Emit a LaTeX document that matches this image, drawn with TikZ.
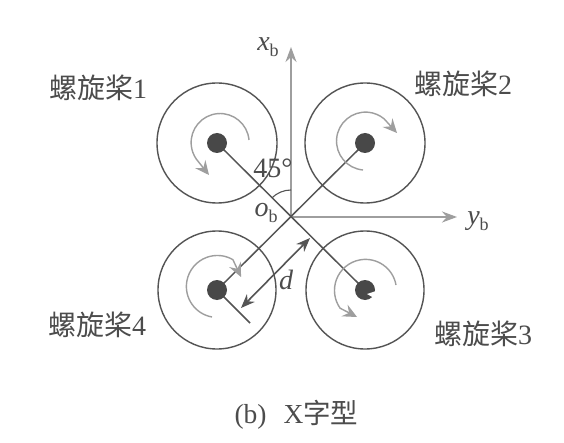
\documentclass[tikz,border=0pt]{standalone}
\usepackage{fontspec}
\setmainfont{Liberation Serif}
\newfontfamily\cjk{Noto Sans CJK SC}
\usetikzlibrary{arrows.meta}
\definecolor{ink}{gray}{0.33}
\definecolor{soft}{gray}{0.62}
\definecolor{txt}{gray}{0.30}
\newcommand{\subb}[1]{{\itshape #1}\raisebox{-0.22em}{\fontsize{18pt}{18pt}\selectfont b}}
\tikzset{
  disc/.style={draw=ink,line width=1.4pt},
  hub/.style={circle,fill=ink!85!black,minimum size=20pt,inner sep=0pt},
  arm/.style={draw=ink,line width=1.5pt},
  axisline/.style={draw=soft,line width=1.5pt,-{Stealth[length=15pt,width=11pt]}},
  spin/.style={draw=soft,line width=1.4pt,-{Stealth[length=14pt,width=13pt,inset=5pt]}},
  lab/.style={text=txt,font=\fontsize{28pt}{28pt}\selectfont,inner sep=0pt},
  sym/.style={text=txt,font=\fontsize{28pt}{28pt}\selectfont,inner sep=0pt},
}
\begin{document}
\begin{tikzpicture}[x=1pt,y=1pt]
\useasboundingbox (0,0) rectangle (564,442);
\fill[white] (0,0) rectangle (564,442);
\coordinate (O) at (291,225);
\coordinate (M1) at (217,299);
\coordinate (M2) at (365,299);
\coordinate (M3) at (365,152);
\coordinate (M4) at (217,152);
\coordinate (T4) at (250,119);
\coordinate (Xt) at (291,395);
\coordinate (Yt) at (457,225);
\coordinate (D1) at (310,204);
\coordinate (D2) at (241,134);
\draw[disc] (M1) circle (60);
\draw[disc] (M2) circle (60);
\draw[disc] (M3) circle (59);
\draw[disc] (M4) circle (59);
\draw[axisline] (O) -- (Xt);
\draw[axisline] (O) -- (Yt);
\draw[arm] (M1) -- (M3);
\draw[arm] (M2) -- (M4);
\draw[arm] (M4) -- (T4);
% spin arrows
\draw[spin] (249,302) arc[start angle=5,end angle=215,radius=29] -- (209,267);
\draw[spin] (363,272) arc[start angle=265,end angle=50,radius=29] -- (397,309);
\draw[spin] (396,157) arc[start angle=10,end angle=215,radius=31] -- (357,125);
\draw[spin] (212,125) arc[start angle=260,end angle=60,radius=31] -- (241,165);
% hubs
\node[hub] (H1) at (M1) {};
\node[hub] (H2) at (M2) {};
\node[hub] (H3) at (M3) {};
\node[hub] (H4) at (M4) {};
\fill[white] (367,148) -- (376,151) -- (374,144) -- cycle;
\draw[draw=ink,line width=1.6pt,{Stealth[length=14pt,width=11pt]}-{Stealth[length=14pt,width=11pt]}] (D2) -- (D1);
\coordinate (A1) at (291,252);
\draw[draw=ink,line width=1.1pt] (A1) arc[start angle=90,end angle=135,radius=27];
% labels
\node[sym] (xb) at (268,395) {\subb{x}};
\node[sym] (yb) at (478,221) {\subb{y}};
\node[sym] (ob) at (266,229) {\subb{o}};
\node[sym] (ang) at (273,274) {45°};
\node[sym] (dl) at (286,162) {\itshape d};
\node[lab] (p1) at (98,354) {{\cjk 螺旋桨}1};
\node[lab] (p2) at (463,358) {{\cjk 螺旋桨}2};
\node[lab] (p3) at (483,108) {{\cjk 螺旋桨}3};
\node[lab] (p4) at (97,117) {{\cjk 螺旋桨}4};
\node[text=txt,font=\fontsize{27.5pt}{27.5pt}\selectfont,inner sep=0pt] (cap) at (296.5,27) {(b)\hspace{17pt}X{\cjk 字型}};
\end{tikzpicture}
\end{document}
